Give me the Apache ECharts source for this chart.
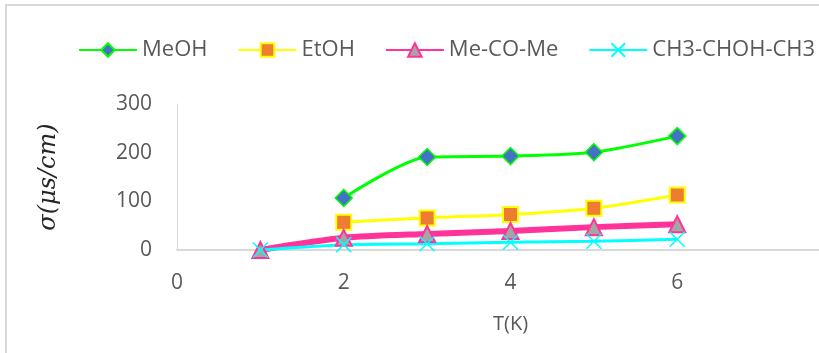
<!DOCTYPE html>
<html>
<head>
<meta charset="utf-8">
<style>
  html, body { margin: 0; padding: 0; background: #fff; overflow: hidden; width: 819px; height: 353px; }
  #chart { width: 870px; height: 353px; }
</style>
<script src="https://cdn.jsdelivr.net/npm/echarts@6/dist/echarts.min.js"></script>
</head>
<body>
<div id="chart"></div>
<script>
// Temperature steps on the x axis
const temperatures = [1, 2, 3, 4, 5, 6];

// Conductivity σ (µS/cm) per solvent
const meoh = [null, 107, 191, 193, 201, 234];
const etoh = [null, 57, 66, 73, 86, 113];
const acetone = [0, 25, 33, 39, 47, 53];
const isopropanol = [0, 11, 13, 16, 18, 22];

const seriesNames = ['MeOH', 'EtOH', 'Me-CO-Me', 'CH3-CHOH-CH3'];

const xTicks = { min: 0, max: 8, interval: 2 };
const yTicks = { min: 0, max: 300, interval: 100 };

function pairs(values) {
  return temperatures.map((t, i) => [t, values[i]]);
}

// The plot runs on past the right edge of the visible page (up to x = 8),
// so the chart canvas is wider than the window and the overflow is hidden.
const chart = echarts.init(document.getElementById('chart'), null, { renderer: 'canvas' });

const labelFont = { fontFamily: 'Open Sans', fontSize: 21, color: '#595959' };
const crossPath = 'path://M0,0L10,10M10,0L0,10';

chart.setOption({
  animation: false,
  backgroundColor: '#ffffff',
  graphic: [{
    type: 'rect',
    shape: { x: 6, y: 5, width: 900, height: 420 },
    style: { fill: 'none', stroke: '#d9d9d9', lineWidth: 2 },
    z: -1
  }],
  legend: {
    left: 73,
    top: 34,
    itemWidth: 58,
    itemHeight: 17,
    itemGap: 30,
    textStyle: { fontFamily: 'Open Sans', fontSize: 22, color: '#595959' },
    data: seriesNames
  },
  grid: { left: 177, top: 104, width: 667, height: 146 },
  xAxis: {
    type: 'value',
    min: xTicks.min, max: xTicks.max, interval: xTicks.interval,
    name: 'T(K)',
    nameLocation: 'middle',
    nameGap: 64,
    nameTextStyle: { fontFamily: 'Open Sans', fontSize: 20, color: '#595959' },
    axisLine: { show: true, lineStyle: { color: '#d9d9d9', width: 2 } },
    axisTick: { show: false },
    splitLine: { show: false },
    axisLabel: Object.assign({ margin: 23 }, labelFont)
  },
  yAxis: {
    type: 'value',
    min: yTicks.min, max: yTicks.max, interval: yTicks.interval,
    name: 'σ(μs/cm)',
    nameLocation: 'middle',
    nameRotate: 90,
    nameGap: 116,
    nameTextStyle: { fontFamily: 'DejaVu Serif', fontStyle: 'italic', fontSize: 24, color: '#262626' },
    axisLine: { show: true, lineStyle: { color: '#d9d9d9', width: 1 } },
    axisTick: { show: false },
    splitLine: { show: false },
    axisLabel: Object.assign({ margin: 25 }, labelFont)
  },
  series: [
    {
      name: seriesNames[0], type: 'line', data: pairs(meoh), smooth: 0.25,
      symbol: 'diamond', symbolSize: 17,
      lineStyle: { color: '#00ff00', width: 3 },
      itemStyle: { color: '#4472c4', borderColor: '#00ff00', borderWidth: 1.5 }
    },
    {
      name: seriesNames[1], type: 'line', data: pairs(etoh), smooth: 0.25,
      symbol: 'rect', symbolSize: 15,
      lineStyle: { color: '#ffff00', width: 3 },
      itemStyle: { color: '#ed7d31', borderColor: '#ffff00', borderWidth: 2 }
    },
    {
      name: seriesNames[2], type: 'line', data: pairs(acetone), smooth: 0.25,
      symbol: 'triangle', symbolSize: 16,
      lineStyle: { color: '#ff3399', width: 6 },
      itemStyle: { color: '#a5a5a5', borderColor: '#ff3399', borderWidth: 2 }
    },
    {
      name: seriesNames[3], type: 'line', data: pairs(isopropanol), smooth: 0.25,
      symbol: crossPath, symbolSize: 15,
      lineStyle: { color: '#00ffff', width: 3 },
      itemStyle: { color: '#00ffff', borderColor: '#00ffff', borderWidth: 1.5 }
    }
  ]
});
</script>
</body>
</html>
